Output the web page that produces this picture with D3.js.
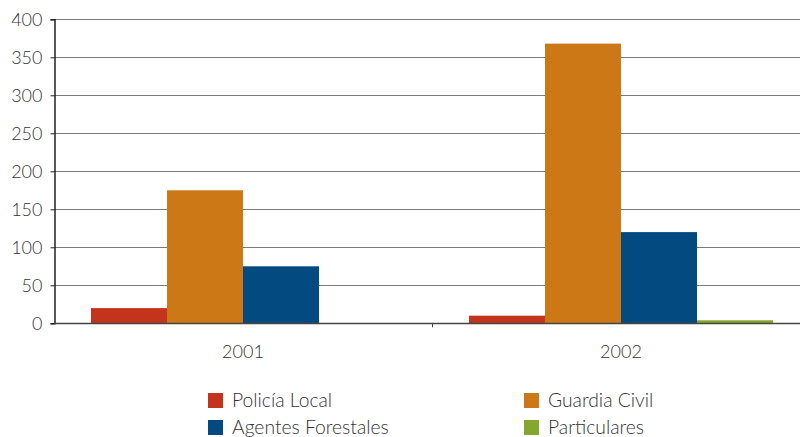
<!DOCTYPE html>
<html>
<head>
<meta charset="utf-8">
<script src="https://cdn.jsdelivr.net/npm/d3@7"></script>
<style>
  html, body { margin: 0; padding: 0; background: #fff; }
  svg { display: block; font-family: "Lato", "Open Sans", sans-serif; font-weight: 300; }
</style>
</head>
<body>
<svg id="chart" width="801" height="437"></svg>
<script>
// Denuncias por colectivo, 2001–2002
const years = ["2001", "2002"];
const series = ["Policía Local", "Guardia Civil", "Agentes Forestales", "Particulares"];
const colors = ["#c4331b", "#cc7816", "#034a80", "#85a72d"];
const policiaLocal = [20, 10];
const guardiaCivil = [175, 368];
const agentesForestales = [75, 120];
const particulares = [0, 4];
const yTicks = [0, 50, 100, 150, 200, 250, 300, 350, 400];

const values = [policiaLocal, guardiaCivil, agentesForestales, particulares];
const data = years.map((yr, i) => ({ year: yr, vals: series.map((s, k) => ({ key: s, value: values[k][i], color: colors[k] })) }));

const svg = d3.select("#chart");
const plotLeft = 54, plotRight = 810, plotTop = 19.3, plotBottom = 323.3, gridRight = 800;

const x0 = d3.scaleBand().domain(years).range([plotLeft, plotRight]).paddingInner(0).paddingOuter(0);
const x1 = d3.scaleBand().domain(series).range([0, x0.bandwidth()]).paddingInner(0).paddingOuter(0.487);
const y = d3.scaleLinear().domain([0, 400]).range([plotBottom, plotTop]);

// horizontal gridlines
svg.append("g")
  .selectAll("line")
  .data(yTicks.filter(d => d > 0))
  .join("line")
  .attr("x1", plotLeft).attr("x2", gridRight)
  .attr("y1", d => Math.round(y(d)) + 0.5).attr("y2", d => Math.round(y(d)) + 0.5)
  .attr("stroke", "#7a7a7a").attr("stroke-width", 1);

// bars
svg.append("g")
  .selectAll("g")
  .data(data)
  .join("g")
  .attr("transform", d => `translate(${x0(d.year)},0)`)
  .selectAll("rect")
  .data(d => d.vals)
  .join("rect")
  .attr("x", d => x1(d.key))
  .attr("width", x1.bandwidth())
  .attr("y", d => y(d.value))
  .attr("height", d => y(0) - y(d.value))
  .attr("fill", d => d.color);

// y axis
const yAxis = svg.append("g")
  .attr("transform", `translate(${plotLeft + 0.5},0)`)
  .call(d3.axisLeft(y).tickValues(yTicks).tickSize(4).tickPadding(8).tickFormat(d3.format("d")));
yAxis.select(".domain").attr("stroke", "#222").attr("stroke-width", 1.5);
yAxis.selectAll(".tick line").attr("stroke", "#222");
yAxis.selectAll("text").attr("font-size", 18).attr("fill", "#333")
  .attr("font-family", "Lato, sans-serif").attr("font-weight", 300);

// x axis baseline
svg.append("line")
  .attr("x1", plotLeft).attr("x2", gridRight)
  .attr("y1", Math.round(y(0)) + 0.5).attr("y2", Math.round(y(0)) + 0.5)
  .attr("stroke", "#444").attr("stroke-width", 1.5);
// separator tick between years
svg.append("line")
  .attr("x1", x0("2002") + 0.5).attr("x2", x0("2002") + 0.5)
  .attr("y1", y(0)).attr("y2", y(0) + 4)
  .attr("stroke", "#444");

// year labels
svg.append("g")
  .selectAll("text")
  .data(years)
  .join("text")
  .attr("x", d => x0(d) + x0.bandwidth() / 2)
  .attr("y", 358)
  .attr("text-anchor", "middle")
  .attr("font-size", 18)
  .attr("fill", "#333")
  .text(d => d);

// legend
const legendPos = [[208, 393], [524, 393], [208, 420], [524, 420]];
const legend = svg.append("g")
  .selectAll("g")
  .data(series)
  .join("g")
  .attr("transform", (d, i) => `translate(${legendPos[i][0]},${legendPos[i][1]})`);
legend.append("rect")
  .attr("width", 15).attr("height", 15)
  .attr("fill", (d, i) => colors[i]);
legend.append("text")
  .attr("x", 24).attr("y", 14)
  .attr("font-size", 19.3)
  .attr("fill", "#333")
  .text(d => d);
</script>
</body>
</html>
